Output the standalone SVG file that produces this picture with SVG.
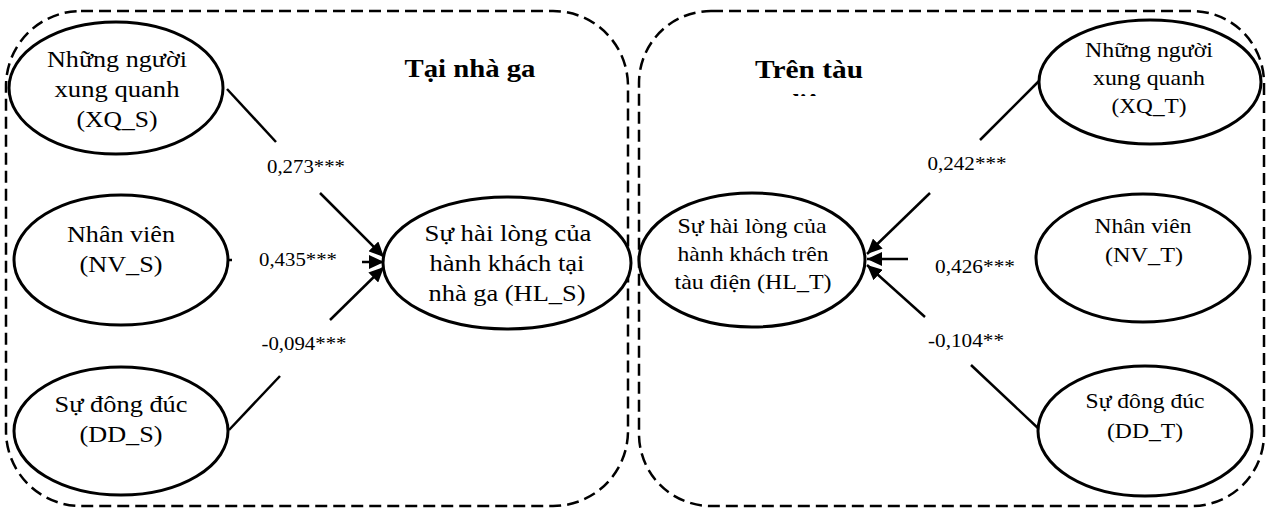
<svg xmlns="http://www.w3.org/2000/svg" width="1266" height="508" viewBox="0 0 1266 508">
  <style>
    .bg { fill: #ffffff; }
    .zone { fill: none; stroke: #000; stroke-width: 2.5; stroke-dasharray: 12 6; }
    .node { fill: #ffffff; stroke: #000; stroke-width: 3; }
    .lbl { font-family: "Liberation Serif", "Times New Roman", serif; font-size: 23px; fill: #000; text-anchor: middle; }
    .lbl.sm { font-size: 21px; }
    .title { font-family: "Liberation Serif", "Times New Roman", serif; font-size: 26px; font-weight: bold; fill: #000; text-anchor: middle; }
    .coef { font-family: "Liberation Serif", "Times New Roman", serif; font-size: 19px; fill: #000; text-anchor: middle; }
    .edge { fill: none; stroke: #000; stroke-width: 2.5; }
  </style>
  <defs>
    <marker id="arrow" viewBox="0 0 15 14" refX="15" refY="7" markerWidth="15" markerHeight="14" markerUnits="userSpaceOnUse" orient="auto">
      <path d="M0,0 L15,7 L0,14 z" fill="#000"/>
    </marker>
    <clipPath id="subClip">
      <rect x="740" y="88" width="140" height="8"/>
    </clipPath>
  </defs>

  <rect class="bg" x="0" y="0" width="1266" height="508"/>

  <!-- dashed zones -->
  <g id="zones">
    <rect id="zone-station" class="zone" x="6" y="11" width="622" height="495" rx="75" ry="75"/>
    <rect id="zone-train" class="zone" x="639" y="11" width="625" height="495" rx="72" ry="72"/>
  </g>

  <!-- zone titles -->
  <g id="titles">
    <text class="title" x="470" y="77" textLength="131" lengthAdjust="spacingAndGlyphs">Tại nhà ga</text>
    <text class="title" x="809" y="78" textLength="108" lengthAdjust="spacingAndGlyphs">Trên tàu</text>
    <text class="title" clip-path="url(#subClip)" x="809" y="112">điện</text>
  </g>

  <!-- connectors -->
  <g id="connectors">
    <!-- station side -->
    <line class="edge" x1="227" y1="89" x2="276" y2="142"/>
    <line class="edge" x1="320" y1="193" x2="384" y2="257" marker-end="url(#arrow)"/>
    <line class="edge" x1="228" y1="260" x2="232" y2="260"/>
    <line class="edge" x1="362" y1="262" x2="384" y2="262" marker-end="url(#arrow)"/>
    <line class="edge" x1="229" y1="430" x2="280" y2="376"/>
    <line class="edge" x1="330" y1="320" x2="384" y2="267" marker-end="url(#arrow)"/>
    <!-- train side -->
    <line class="edge" x1="1040" y1="80" x2="980" y2="140"/>
    <line class="edge" x1="930" y1="193" x2="867" y2="254" marker-end="url(#arrow)"/>
    <line class="edge" x1="908" y1="259" x2="867" y2="259" marker-end="url(#arrow)"/>
    <line class="edge" x1="1040" y1="430" x2="971" y2="365"/>
    <line class="edge" x1="925" y1="317" x2="867" y2="265" marker-end="url(#arrow)"/>
  </g>

  <!-- path coefficients -->
  <g id="coefficients">
    <text class="coef" x="306" y="173" textLength="78" lengthAdjust="spacingAndGlyphs">0,273***</text>
    <text class="coef" x="298" y="266" textLength="78" lengthAdjust="spacingAndGlyphs">0,435***</text>
    <text class="coef" x="304" y="350" textLength="85" lengthAdjust="spacingAndGlyphs">-0,094***</text>
    <text class="coef" x="967" y="170" textLength="79" lengthAdjust="spacingAndGlyphs">0,242***</text>
    <text class="coef" x="975" y="273" textLength="80" lengthAdjust="spacingAndGlyphs">0,426***</text>
    <text class="coef" x="966" y="347" textLength="76" lengthAdjust="spacingAndGlyphs">-0,104**</text>
  </g>

  <!-- station constructs -->
  <g id="XQ_S">
    <ellipse class="node" cx="116" cy="88" rx="107" ry="66"/>
    <text class="lbl" x="117" y="67" textLength="140" lengthAdjust="spacingAndGlyphs">Những người</text>
    <text class="lbl" x="117" y="97" textLength="125" lengthAdjust="spacingAndGlyphs">xung quanh</text>
    <text class="lbl" x="117" y="127" textLength="81" lengthAdjust="spacingAndGlyphs">(XQ_S)</text>
  </g>
  <g id="NV_S">
    <ellipse class="node" cx="121" cy="260" rx="107" ry="65"/>
    <text class="lbl" x="121" y="242" textLength="108" lengthAdjust="spacingAndGlyphs">Nhân viên</text>
    <text class="lbl" x="121" y="272" textLength="83" lengthAdjust="spacingAndGlyphs">(NV_S)</text>
  </g>
  <g id="DD_S">
    <ellipse class="node" cx="121" cy="431" rx="107" ry="64"/>
    <text class="lbl" x="121" y="412" textLength="133" lengthAdjust="spacingAndGlyphs">Sự đông đúc</text>
    <text class="lbl" x="121" y="442" textLength="83" lengthAdjust="spacingAndGlyphs">(DD_S)</text>
  </g>
  <g id="HL_S">
    <ellipse class="node" cx="507" cy="263" rx="124" ry="66"/>
    <text class="lbl" x="508" y="241" textLength="167" lengthAdjust="spacingAndGlyphs">Sự hài lòng của</text>
    <text class="lbl" x="507" y="271" textLength="155" lengthAdjust="spacingAndGlyphs">hành khách tại</text>
    <text class="lbl" x="507" y="301" textLength="157" lengthAdjust="spacingAndGlyphs">nhà ga (HL_S)</text>
  </g>

  <!-- train constructs -->
  <g id="HL_T">
    <ellipse class="node" cx="752" cy="260" rx="113" ry="67"/>
    <text class="lbl sm" x="752" y="233" textLength="149" lengthAdjust="spacingAndGlyphs">Sự hài lòng của</text>
    <text class="lbl sm" x="753" y="261" textLength="151" lengthAdjust="spacingAndGlyphs">hành khách trên</text>
    <text class="lbl sm" x="753" y="289" textLength="157" lengthAdjust="spacingAndGlyphs">tàu điện (HL_T)</text>
  </g>
  <g id="XQ_T">
    <ellipse class="node" cx="1150" cy="82" rx="111" ry="62"/>
    <text class="lbl sm" x="1149" y="57" textLength="128" lengthAdjust="spacingAndGlyphs">Những người</text>
    <text class="lbl sm" x="1149" y="85" textLength="112" lengthAdjust="spacingAndGlyphs">xung quanh</text>
    <text class="lbl sm" x="1149" y="113" textLength="75" lengthAdjust="spacingAndGlyphs">(XQ_T)</text>
  </g>
  <g id="NV_T">
    <ellipse class="node" cx="1143" cy="258" rx="107" ry="64"/>
    <text class="lbl sm" x="1143" y="233" textLength="97" lengthAdjust="spacingAndGlyphs">Nhân viên</text>
    <text class="lbl sm" x="1144" y="262" textLength="78" lengthAdjust="spacingAndGlyphs">(NV_T)</text>
  </g>
  <g id="DD_T">
    <ellipse class="node" cx="1145" cy="431" rx="107" ry="65"/>
    <text class="lbl sm" x="1145" y="408" textLength="119" lengthAdjust="spacingAndGlyphs">Sự đông đúc</text>
    <text class="lbl sm" x="1145" y="438" textLength="76" lengthAdjust="spacingAndGlyphs">(DD_T)</text>
  </g>
</svg>
